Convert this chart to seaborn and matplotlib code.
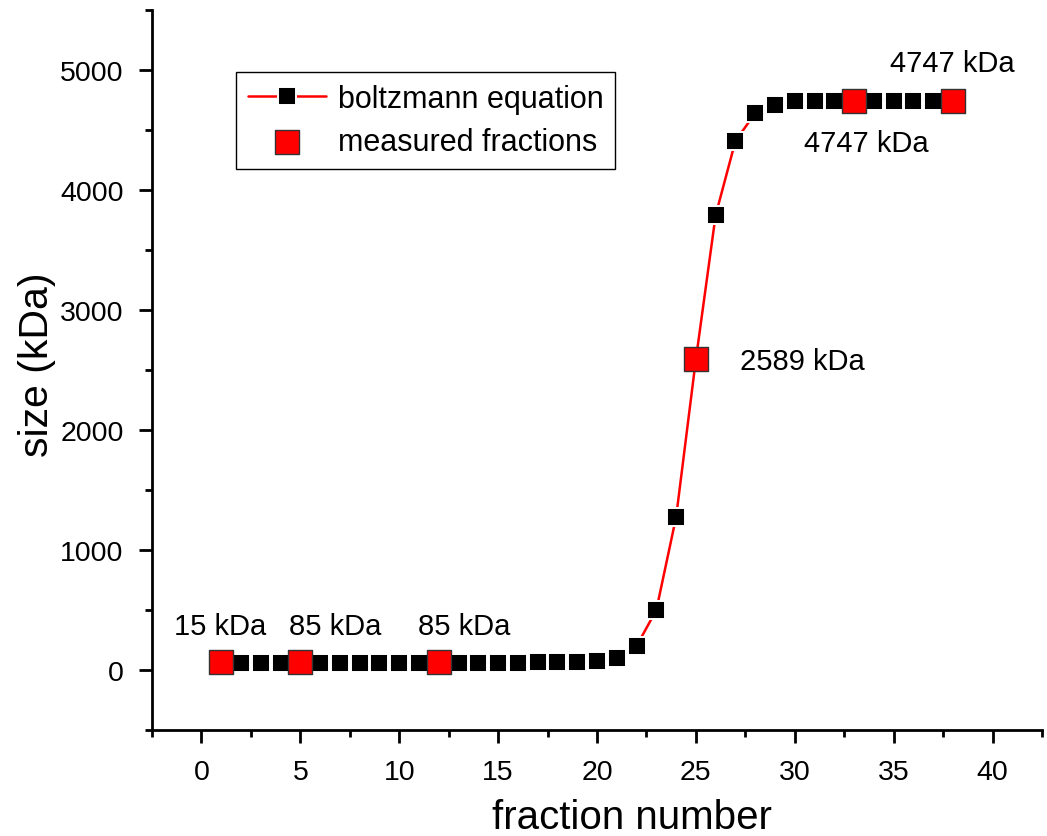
import matplotlib
matplotlib.use("Agg")
import matplotlib.pyplot as plt
import seaborn as sns
import numpy as np

# Data
fraction = list(range(1, 39))
boltzmann = [62, 62, 62, 62, 62, 62, 62, 62, 62, 62,
             62, 62, 62, 62, 62, 62, 63, 64, 67, 78,
             100, 200, 500, 1275, 2589, 3792, 4410, 4642, 4710, 4740,
             4745, 4747, 4747, 4747, 4747, 4747, 4747, 4747]
measured_x = [1, 5, 12, 25, 33, 38]
measured_y = [65, 65, 65, 2589, 4747, 4747]
ann_text = ["15 kDa", "85 kDa", "85 kDa", "2589 kDa", "4747 kDa", "4747 kDa"]
ann_x = [0.96, 6.77, 13.3, 27.22, 33.6, 37.95]
ann_y = [300, 300, 300, 2508, 4325, 4992]
ann_ha = ["center", "center", "center", "left", "center", "center"]

sns.set_style("ticks")
plt.rcParams['font.family'] = ['Liberation Sans', 'DejaVu Sans']
for k in ['text.color', 'axes.labelcolor', 'xtick.color', 'ytick.color']:
    plt.rcParams[k] = 'black'

fig = plt.figure(figsize=(10.47, 8.37), dpi=100)
ax = fig.add_axes([0.1452, 0.1266, 0.850, 0.860])

sns.lineplot(x=fraction, y=boltzmann, ax=ax, color='red', linewidth=1.8,
             marker='s', markersize=12.9, markerfacecolor='black',
             markeredgecolor='white', markeredgewidth=1.4,
             label='boltzmann equation', zorder=2)
sns.scatterplot(x=measured_x, y=measured_y, ax=ax, marker='s', s=290,
                color='red', edgecolor='#333333', linewidth=1.0,
                label='measured fractions', zorder=3)

for t, x, y, ha in zip(ann_text, ann_x, ann_y, ann_ha):
    ax.text(x, y, t, ha=ha, va='baseline', fontsize=21, color='black')

ax.set_xlim(-2.5, 42.5)
ax.set_ylim(-500, 5500)
ax.set_xticks(range(0, 45, 5))
ax.set_xticks(np.arange(-2.5, 43, 5), minor=True)
ax.set_yticks(range(0, 6000, 1000))
ax.set_yticks(np.arange(-500, 5600, 1000), minor=True)

ax.set_xlabel("fraction number", fontsize=29)
ax.set_ylabel("size (kDa)", fontsize=29.5)
ax.xaxis.set_label_coords((632 - 152) / 890, -0.095)
ax.yaxis.set_label_coords(-0.108, (731 - 365) / 720)

sns.despine(ax=ax)
for s in ['left', 'bottom']:
    ax.spines[s].set_linewidth(2.0)
    ax.spines[s].set_color('black')
ax.tick_params(axis='both', which='major', direction='out', length=9.5, width=2.0,
               labelsize=20.5, colors='black')
ax.tick_params(axis='x', which='major', pad=11.5)
ax.tick_params(axis='y', which='major', pad=11)
ax.tick_params(axis='both', which='minor', direction='out', length=5, width=2.0)

leg = ax.legend(loc='upper left', bbox_to_anchor=((236 - 152) / 890, (731 - 73) / 720),
                borderaxespad=0, fontsize=22,
                frameon=True, fancybox=False, edgecolor='black', framealpha=1,
                handlelength=2.55, borderpad=0.38, labelspacing=0.43, handletextpad=0.4)
leg.get_frame().set_linewidth(1.0)

fig.savefig("out.png", dpi=100)
